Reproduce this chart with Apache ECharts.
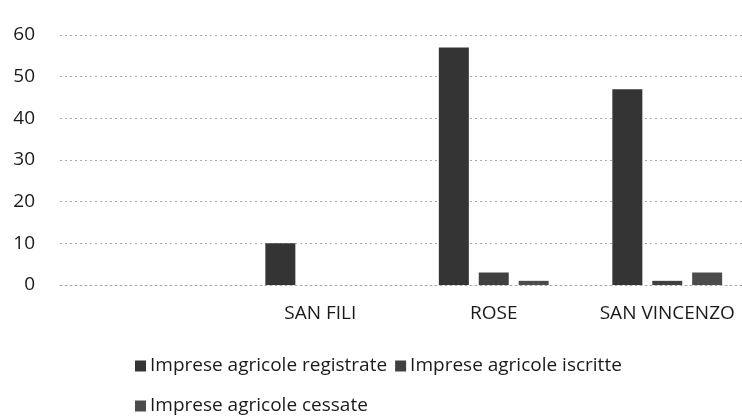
<!DOCTYPE html>
<html>
<head>
<meta charset="utf-8">
<script src="https://cdn.jsdelivr.net/npm/echarts@6/dist/echarts.min.js"></script>
<style>
  html, body { margin: 0; padding: 0; background: #fff; }
  #chart { width: 742px; height: 419px; }
</style>
</head>
<body>
<div id="chart"></div>
<script>
const categories = ['', 'SAN FILI', 'ROSE', 'SAN VINCENZO']
const registrate = [null, 10, 57, 47]
const iscritte = [null, 0, 3, 1]
const cessate = [null, 0, 1, 3]
const yTicks = [0, 10, 20, 30, 40, 50, 60]

const font = "'Open Sans', 'Noto Sans', sans-serif"
const chart = echarts.init(document.getElementById('chart'))

function barSeries(name, data, color) {
  return {
    name,
    type: 'bar',
    data,
    barWidth: 30,
    barGap: '33%',
    itemStyle: { color },
  }
}

const legendText = { color: '#1a1a1a', fontSize: 19, fontFamily: font, lineHeight: 24, padding: [0, 0, 0, -1] }

chart.setOption({
  backgroundColor: '#fff',
  animation: false,
  grid: { left: 60, right: -12, top: 35, bottom: 134, outerBoundsMode: 'none' },
  xAxis: {
    type: 'category',
    data: categories,
    axisLine: { lineStyle: { color: '#aaa', type: [2, 3] } },
    axisTick: { show: false },
    axisLabel: { interval: 0, color: '#1a1a1a', fontSize: 19, fontFamily: font, margin: 19 },
  },
  yAxis: {
    type: 'value',
    min: yTicks[0],
    max: yTicks[yTicks.length - 1],
    interval: 10,
    axisLine: { show: false },
    axisTick: { show: false },
    axisLabel: { color: '#1a1a1a', fontSize: 19, fontFamily: font, margin: 25 },
    splitLine: { lineStyle: { color: '#aaa', type: [2, 3], width: 1 } },
  },
  legend: [
    {
      data: ['Imprese agricole registrate', 'Imprese agricole iscritte'],
      left: 130,
      top: 349,
      itemWidth: 11,
      itemHeight: 11,
      itemGap: 8,
      icon: 'rect',
      textStyle: legendText,
    },
    {
      data: ['Imprese agricole cessate'],
      left: 130,
      top: 389,
      itemWidth: 11,
      itemHeight: 11,
      icon: 'rect',
      textStyle: legendText,
    },
  ],
  series: [
    barSeries('Imprese agricole registrate', registrate, '#343434'),
    barSeries('Imprese agricole iscritte', iscritte, '#404040'),
    barSeries('Imprese agricole cessate', cessate, '#4c4c4c'),
  ],
})
</script>
</body>
</html>
